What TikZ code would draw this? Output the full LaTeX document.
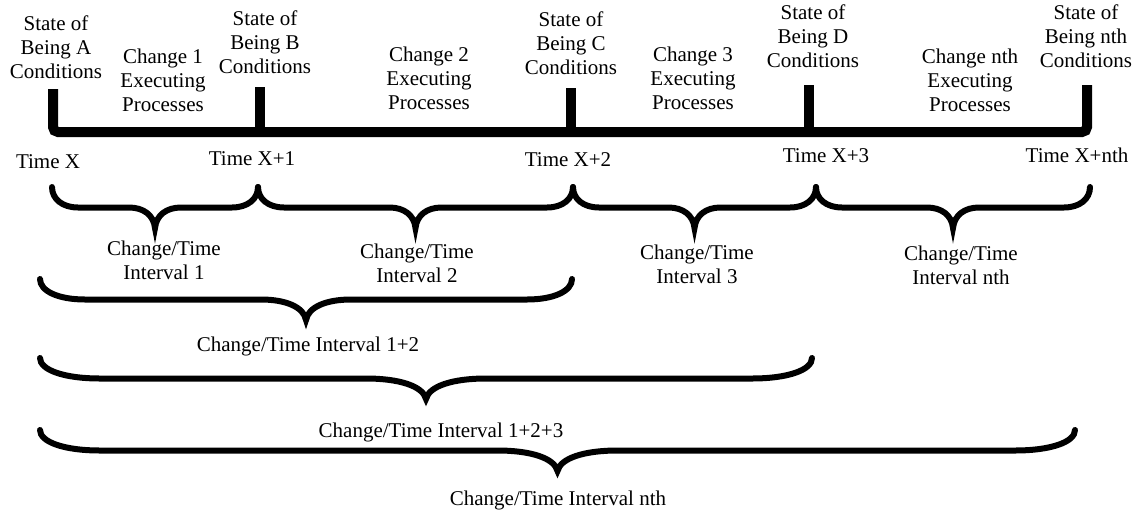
\documentclass[tikz,border=0pt]{standalone}
\usepackage{fontspec}
\setmainfont{Liberation Serif}

% curly brace pointing down: #1 left x, #2 right x, #3 top y, #4 curl width
\newcommand\curly[4]{%
  \draw[brc] (#1,#3)
    .. controls (#1,{#3+12}) and ({#1+0.4*#4},{#3+20.5}) .. ({#1+#4},{#3+20.5})
    -- ({(#1+#2)/2-#4},{#3+20.5})
    .. controls ({(#1+#2)/2-0.45*#4},{#3+20.5}) and ({(#1+#2)/2-0.05*#4},{#3+28}) .. ({(#1+#2)/2},{#3+41})
    .. controls ({(#1+#2)/2+0.05*#4},{#3+28}) and ({(#1+#2)/2+0.45*#4},{#3+20.5}) .. ({(#1+#2)/2+#4},{#3+20.5})
    -- ({#2-#4},{#3+20.5})
    .. controls ({#2-0.4*#4},{#3+20.5}) and (#2,{#3+12}) .. (#2,#3);}

\begin{document}
\begin{tikzpicture}[x=1pt, y=-1pt,
  lbl/.style={align=center, inner sep=0pt, font=\fontsize{21}{24}\selectfont},
  tline/.style={line width=10pt},
  brc/.style={line width=6pt, line cap=round}]
\useasboundingbox (0,0) rectangle (1135,512);

% time line
\coordinate (tA) at (53,132);
\coordinate (tE) at (1087,132);
\draw[tline, rounded corners=5pt] (53,89) -- (tA) -- (tE) -- (1087,85);
\foreach \x/\t in {260/87, 571/88, 809/85}
  \draw[tline] (\x,\t) -- (\x,132);

% states
\node[lbl, anchor=north] (stA) at (56,16) {State of\\Being A\\Conditions};
\node[lbl, anchor=north] (stB) at (265,11) {State of\\Being B\\Conditions};
\node[lbl, anchor=north] (stC) at (571,12) {State of\\Being C\\Conditions};
\node[lbl, anchor=north] (stD) at (813,5) {State of\\Being D\\Conditions};
\node[lbl, anchor=north] (stN) at (1086,5) {State of\\Being nth\\Conditions};

% changes
\node[lbl, anchor=north] (chA) at (163,49) {Change 1\\Executing\\Processes};
\node[lbl, anchor=north] (chB) at (429,47) {Change 2\\Executing\\Processes};
\node[lbl, anchor=north] (chC) at (693,47) {Change 3\\Executing\\Processes};
\node[lbl, anchor=north] (chN) at (970,49) {Change nth\\Executing\\Processes};

% times
\node[lbl, anchor=base] (tmA) at (48,168) {Time X};
\node[lbl, anchor=base] (tmB) at (252,165) {Time X+1};
\node[lbl, anchor=base] (tmC) at (568,166) {Time X+2};
\node[lbl, anchor=base] (tmD) at (826,162) {Time X+3};
\node[lbl, anchor=base] (tmN) at (1077,162) {Time X+nth};

% intervals
\curly{52}{258}{187}{26}
\curly{258}{573}{187}{26}
\curly{573}{816}{187}{26}
\curly{816}{1090}{187}{26}
\curly{40}{572}{279}{45}
\curly{40}{812}{358}{60}
\curly{40}{1075}{430}{60}

\node[lbl, anchor=north] (ivA) at (164,241) {Change/Time\\Interval 1};
\node[lbl, anchor=north] (ivB) at (417,244) {Change/Time\\Interval 2};
\node[lbl, anchor=north] (ivC) at (697,245) {Change/Time\\Interval 3};
\node[lbl, anchor=north] (ivN) at (961,246) {Change/Time\\Interval nth};
\node[lbl, anchor=base] (ivAB) at (308,351) {Change/Time Interval 1+2};
\node[lbl, anchor=base] (ivABC) at (441,437) {Change/Time Interval 1+2+3};
\node[lbl, anchor=base] (ivAll) at (558,505) {Change/Time Interval nth};
\end{tikzpicture}
\end{document}
